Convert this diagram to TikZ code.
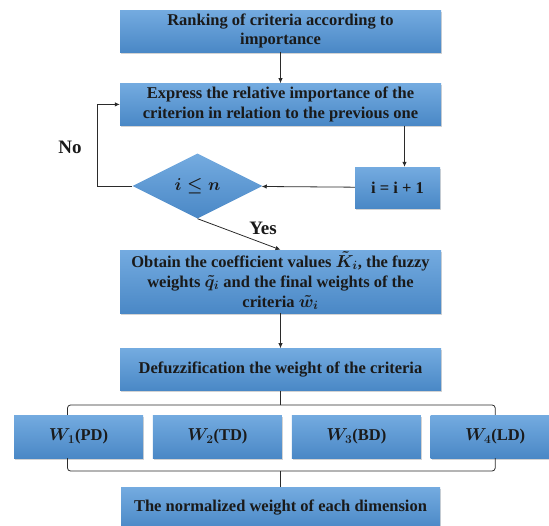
\documentclass[tikz,border=0pt]{standalone}
\usepackage{fontspec}
\setmainfont{Liberation Serif}
\usepackage{amsmath}
\usetikzlibrary{positioning,arrows.meta,shapes.geometric,shadows}
\definecolor{boxtop}{HTML}{74ABE0}
\definecolor{boxbot}{HTML}{4A88C6}
\definecolor{wire}{HTML}{2B2B2B}
\definecolor{ink}{HTML}{1A1A1A}

\begin{document}
\begin{tikzpicture}[x=1pt,y=-1pt,
  box/.style={top color=boxtop,bottom color=boxbot,draw=none,minimum width=321pt,minimum height=42pt,inner sep=2pt,align=center,text=ink,font=\fontsize{16.5}{19.5}\selectfont\bfseries\boldmath,drop shadow={opacity=0.35,shadow xshift=1.2pt,shadow yshift=-1.5pt}},
  wbox/.style={box,minimum width=129pt,minimum height=43pt},
  dec/.style={diamond,aspect=2,top color=boxtop,bottom color=boxbot,draw=none,minimum width=130pt,minimum height=65pt,inner sep=0pt,text=ink,font=\fontsize{17}{19}\selectfont\bfseries\boldmath},
  lbl/.style={font=\fontsize{19}{21}\selectfont\bfseries,text=ink},
  arr/.style={-{Latex[length=5pt,width=4.5pt]},draw=wire,line width=0.8pt},
  wire/.style={draw=wire,line width=0.8pt}]
\useasboundingbox (0,0) rectangle (549,525);
\node[box] (rank) at (280.5,31) {Ranking of criteria according to\\importance};
\node[box,below=31pt of rank] (express) {Express the relative importance of the\\criterion in relation to the previous one};
\node[dec] (test) at (197.5,186) {$i\leq n$};
\node[box,minimum width=85pt,minimum height=41pt] (incr) at (397.5,187.5) {i = i + 1};
\node[box,minimum height=63pt,font=\fontsize{16.5}{20}\selectfont\bfseries\boldmath] (obtain) at (280.5,281.5) {Obtain the coefficient values $\smash{\tilde{K}_i}$, the fuzzy\\weights $\smash{\tilde{q}_i}$ and the final weights of the\\criteria $\smash{\tilde{w}_i}$};
\node[box,below=35pt of obtain] (defuzz) {Defuzzification the weight of the criteria};
\node[wbox] (w1) at (78.5,436.5) {$W_1$(PD)};
\node[wbox,right=9.5pt of w1] (w2) {$W_2$(TD)};
\node[wbox,right=9.5pt of w2] (w3) {$W_3$(BD)};
\node[wbox,right=9.5pt of w3] (w4) {$W_4$(LD)};
\node[box,minimum width=319pt] (norm) at (280.5,508) {The normalized weight of each dimension};
\node[lbl] (no) at (70,147) {No};
\node[lbl] (yes) at (263,228) {Yes};
% main flow
\draw[arr] (rank) -- (express);
\draw[arr] ([xshift=7pt]incr.north |- express.south) -- ([xshift=7pt]incr.north);
\draw[arr] (incr) -- (test);
\draw[arr] (test.west) -- ++(-35,0) |- (express.west);
\draw[arr] (test.south) -- (obtain.north);
\draw[arr] (obtain) -- (defuzz);
% brackets
\coordinate (split) at (280.5,405);
\coordinate (join) at (280.5,471);
\draw[wire] (defuzz.south) -- (split);
\draw[wire,rounded corners=3pt] ([xshift=-11pt]w1.north) |- (split) -| (w4.north);
\draw[wire,rounded corners=3pt] ([xshift=-11pt]w1.south) |- (join) -| (w4.south);
\draw[wire] (join) -- (norm.north);
\end{tikzpicture}
\end{document}
